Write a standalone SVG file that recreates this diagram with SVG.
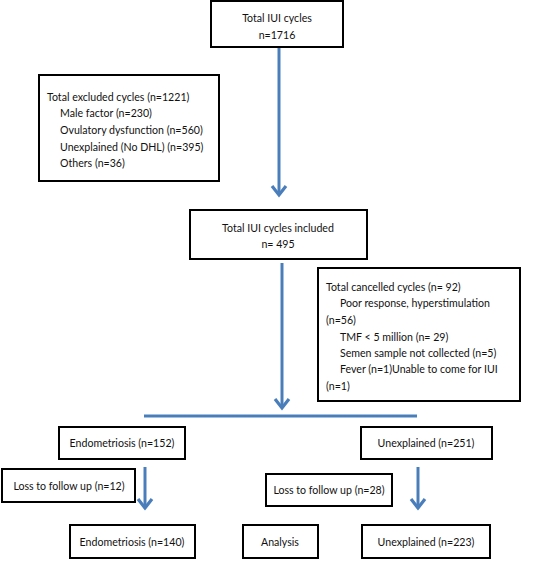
<svg xmlns="http://www.w3.org/2000/svg" width="538" height="561" viewBox="0 0 538 561">
<style>
.box{fill:#fff;stroke:#000;stroke-width:2}
text{font-family:Lato,"Liberation Sans",sans-serif;font-size:10.6px;fill:#111}
.c{text-anchor:middle}
.conn{stroke:#4a7ebb;stroke-width:3;fill:none}
</style>
<defs>
<marker id="ah" markerWidth="16" markerHeight="16" refX="0" refY="0" orient="auto" markerUnits="userSpaceOnUse" overflow="visible">
<path d="M-9,-7 L0,0 L-9,7" fill="none" stroke="#4a7ebb" stroke-width="3.2" stroke-linejoin="miter"/>
</marker>
</defs>
<rect width="538" height="561" fill="#fff"/>
<g id="connectors">
<line class="conn" x1="279" y1="47" x2="279" y2="195" marker-end="url(#ah)"/>
<line class="conn" x1="282" y1="263" x2="282" y2="408" marker-end="url(#ah)"/>
<line class="conn" x1="144" y1="416" x2="417" y2="416"/>
<line class="conn" x1="145" y1="467" x2="145" y2="508" marker-end="url(#ah)"/>
<line class="conn" x1="418" y1="467" x2="418" y2="508" marker-end="url(#ah)"/>
</g>
<g id="total">
<rect class="box" x="211" y="1" width="132" height="46"/>
<text class="c" x="277" y="22">Total IUI cycles</text>
<text class="c" x="277" y="39">n=1716</text>
</g>
<g id="excluded">
<rect class="box" x="39" y="75" width="180" height="106"/>
<text x="47" y="101">Total excluded cycles (n=1221)</text>
<text x="60" y="117">Male factor (n=230)</text>
<text x="60" y="134">Ovulatory dysfunction (n=560)</text>
<text x="60" y="151">Unexplained (No DHL) (n=395)</text>
<text x="60" y="167">Others (n=36)</text>
</g>
<g id="included">
<rect class="box" x="190" y="210" width="177" height="49"/>
<text class="c" x="278" y="232">Total IUI cycles included</text>
<text class="c" x="278" y="248">n= 495</text>
</g>
<g id="cancelled">
<rect class="box" x="318" y="268" width="202" height="133"/>
<text x="326" y="291">Total cancelled cycles (n= 92)</text>
<text x="340" y="307">Poor response, hyperstimulation</text>
<text x="326" y="324">(n=56)</text>
<text x="340" y="341">TMF &lt; 5 million (n= 29)</text>
<text x="340" y="357">Semen sample not collected (n=5)</text>
<text x="340" y="373">Fever (n=1)Unable to come for IUI</text>
<text x="326" y="390">(n=1)</text>
</g>
<g id="endo152">
<rect class="box" x="59" y="427" width="126" height="32"/>
<text class="c" x="122" y="447">Endometriosis (n=152)</text>
</g>
<g id="unexp251">
<rect class="box" x="361" y="427" width="131" height="32"/>
<text class="c" x="426" y="447">Unexplained (n=251)</text>
</g>
<g id="loss12">
<rect class="box" x="2" y="469" width="133" height="33"/>
<text class="c" x="69" y="490">Loss to follow up (n=12)</text>
</g>
<g id="loss28">
<rect class="box" x="266" y="474" width="126" height="32"/>
<text class="c" x="329" y="494">Loss to follow up (n=28)</text>
</g>
<g id="endo140">
<rect class="box" x="70" y="525" width="125" height="33"/>
<text class="c" x="132" y="546">Endometriosis (n=140)</text>
</g>
<g id="analysis">
<rect class="box" x="243" y="525" width="75" height="33"/>
<text class="c" x="280" y="546">Analysis</text>
</g>
<g id="unexp223">
<rect class="box" x="362" y="525" width="128" height="33"/>
<text class="c" x="426" y="546">Unexplained (n=223)</text>
</g>
</svg>
